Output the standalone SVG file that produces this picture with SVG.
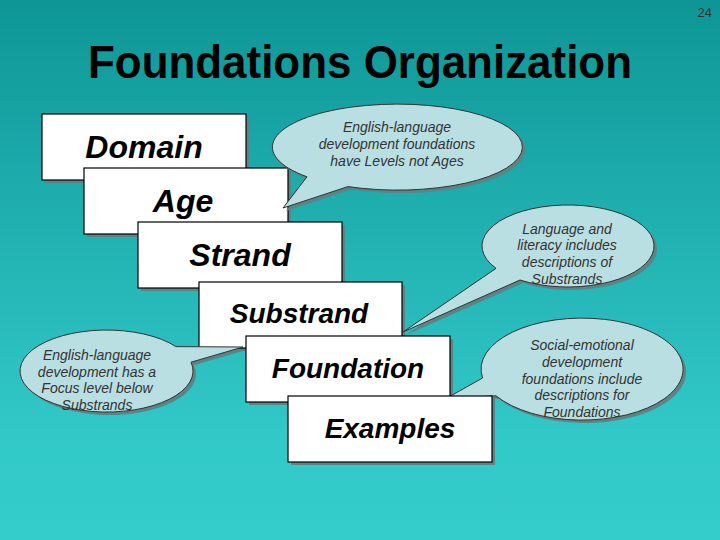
<svg xmlns="http://www.w3.org/2000/svg" width="720" height="540" viewBox="0 0 720 540">
<defs>
<linearGradient id="bg" x1="0" y1="0" x2="0" y2="1">
<stop offset="0" stop-color="#0e9696"/>
<stop offset="0.8" stop-color="#32c8c8"/>
<stop offset="1" stop-color="#35cccc"/>
</linearGradient>
<style>
.box{fill:#ffffff;stroke:#000000;stroke-width:1.2}
.shadow{fill:#5b8486}
.bt{font-family:"Liberation Sans",Arial,sans-serif;font-weight:bold;font-style:italic;fill:#000;text-anchor:middle}
.big{font-size:32px}
.med{font-size:28px}
.call{fill:#b9dfe2;stroke:#333333;stroke-width:1}
.ct{font-family:"Liberation Sans",Arial,sans-serif;font-style:italic;font-size:14px;fill:#333333;text-anchor:middle}
</style>
<path id="c1p" d="M307,176.8 L283,208 L348,186.6 A125,43 0 1 0 307,176.8 Z"/>
<path id="c2p" d="M496,268.4 L403,332 L520,280 A86,41 0 1 0 496,268.4 Z"/>
<path id="c3p" d="M482.6,378 L446,398.5 L496,395.8 A101,51 0 1 0 482.6,378 Z"/>
<path id="c4p" d="M176,346.6 L243,347 L191,362.2 A86.5,41 0 1 1 176,346.6 Z"/>
</defs>
<rect x="0" y="0" width="720" height="540" fill="url(#bg)"/>
<text x="712" y="17" font-family="Liberation Sans Narrow,Liberation Sans,Arial,sans-serif" font-size="13" fill="#333" text-anchor="end">24</text>
<text x="360" y="78" font-family="Liberation Sans,Arial,sans-serif" font-weight="bold" font-size="46" fill="#000" textLength="544" lengthAdjust="spacingAndGlyphs" text-anchor="middle">Foundations Organization</text>

<g id="domain">
<rect class="shadow" x="45" y="117" width="204" height="66"/>
<rect class="box" x="42" y="114" width="204" height="66"/>
<text class="bt big" x="144" y="158">Domain</text>
</g>
<g id="age">
<rect class="shadow" x="87" y="171" width="204" height="66"/>
<rect class="box" x="84" y="168" width="204" height="66"/>
<text class="bt big" x="183" y="212">Age</text>
</g>
<g id="strand">
<rect class="shadow" x="141" y="225" width="204" height="66"/>
<rect class="box" x="138" y="222" width="204" height="66"/>
<text class="bt big" x="240" y="266">Strand</text>
</g>
<g id="substrand">
<rect class="shadow" x="202" y="285" width="203" height="66"/>
<rect class="box" x="199" y="282" width="203" height="66"/>
<text class="bt med" x="299" y="323">Substrand</text>
</g>
<g id="foundation">
<rect class="shadow" x="249" y="339" width="204" height="66"/>
<rect class="box" x="246" y="336" width="204" height="66"/>
<text class="bt med" x="348" y="378">Foundation</text>
</g>
<g id="callout-social">
<use href="#c3p" class="shadow" transform="translate(3,3)"/>
<use href="#c3p" class="call"/>
<text class="ct"><tspan x="582" y="350">Social-emotional</tspan><tspan x="582" y="367">development</tspan><tspan x="582" y="384">foundations include</tspan><tspan x="582" y="400">descriptions for</tspan><tspan x="582" y="417">Foundations</tspan></text>
</g>
<g id="examples">
<rect class="shadow" x="291" y="399" width="204" height="66"/>
<rect class="box" x="288" y="396" width="204" height="66"/>
<text class="bt med" x="390" y="438">Examples</text>
</g>
<g id="callout-levels">
<use href="#c1p" class="shadow" transform="translate(3,3)"/>
<use href="#c1p" class="call"/>
<text class="ct"><tspan x="397" y="132">English-language</tspan><tspan x="397" y="149">development foundations</tspan><tspan x="397" y="166">have Levels not Ages</tspan></text>
</g>
<g id="callout-literacy">
<use href="#c2p" class="shadow" transform="translate(3,3)"/>
<use href="#c2p" class="call"/>
<text class="ct"><tspan x="567" y="234">Language and</tspan><tspan x="567" y="250">literacy includes</tspan><tspan x="567" y="267">descriptions of</tspan><tspan x="567" y="284">Substrands</tspan></text>
</g>
<g id="callout-focus">
<use href="#c4p" class="shadow" transform="translate(3,3)"/>
<use href="#c4p" class="call"/>
<text class="ct"><tspan x="97" y="360">English-language</tspan><tspan x="97" y="377">development has a</tspan><tspan x="97" y="393">Focus level below</tspan><tspan x="97" y="410">Substrands</tspan></text>
</g>
<g id="connectors"></g>
</svg>
